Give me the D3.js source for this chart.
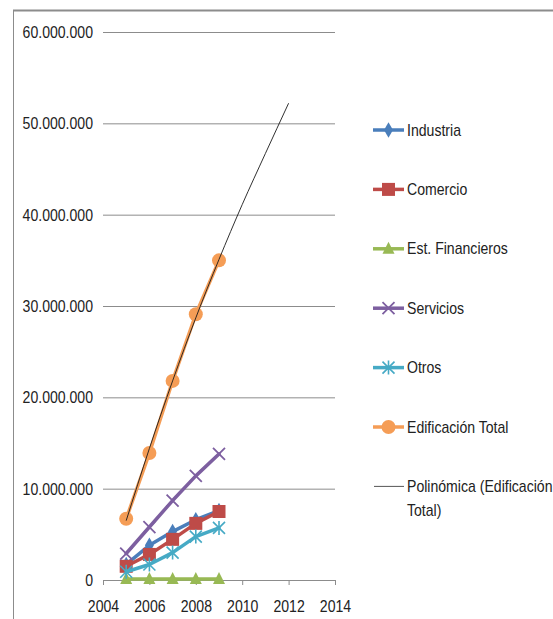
<!DOCTYPE html>
<html>
<head>
<meta charset="utf-8">
<script src="https://cdn.jsdelivr.net/npm/d3@7"></script>
<style>
  body { margin: 0; background: #fff; }
  svg text { font-family: "Liberation Sans", Arial, sans-serif; fill: #222; font-size: 16px; }
</style>
</head>
<body>
<div id="chart"></div>
<script>
// data
var years = [2005, 2006, 2007, 2008, 2009];
var industria = [1700000, 3800000, 5300000, 6600000, 7600000];
var comercio = [1500000, 2800000, 4450000, 6200000, 7500000];
var financieros = [100000, 100000, 100000, 100000, 100000];
var servicios = [2900000, 5800000, 8700000, 11400000, 13800000];
var otros = [900000, 1700000, 3000000, 4750000, 5700000];
var total = [6700000, 13900000, 21800000, 29100000, 35000000];
// polynomial trendline of Edificación Total
var trendYears = [2005, 2006, 2007, 2008, 2009, 2010, 2011, 2012];
var trendValues = [6500000, 14400000, 21800000, 28700000, 35100000, 41100000, 46700000, 52200000];
var yTicks = [0, 10000000, 20000000, 30000000, 40000000, 50000000, 60000000];
var xTicks = [2004, 2006, 2008, 2010, 2012, 2014];

var width = 553, height = 619;
var margin = {top: 32, right: 218, bottom: 39, left: 103};
var squeeze = 0.88; // text in the picture is horizontally condensed

var svg = d3.select("#chart")
  .append("svg")
    .attr("width", width)
    .attr("height", height);

// condensed text helper
function label(parent, px, py, str, anchor) {
  return parent.append("g")
      .attr("transform", "translate(" + px + "," + py + ") scale(" + squeeze + ",1)")
    .append("text")
      .attr("text-anchor", anchor || "start")
      .attr("dy", "0.35em")
      .text(str);
}

// outer chart frame (top and left edges visible)
svg.append("line").attr("x1", 13).attr("x2", width).attr("y1", 10.5).attr("y2", 10.5)
  .attr("stroke", "#8c8c8c").attr("stroke-width", 2);
svg.append("line").attr("x1", 13.5).attr("x2", 13.5).attr("y1", 10).attr("y2", height)
  .attr("stroke", "#8c8c8c").attr("stroke-width", 1);

var x = d3.scaleLinear()
  .domain([2004, 2014])
  .range([margin.left, width - margin.right]);

var y = d3.scaleLinear()
  .domain([0, 60000000])
  .range([height - margin.bottom, margin.top]);

function fmt(v) {
  return d3.format(",")(v).replace(/,/g, ".");
}

// gridlines + y labels
var yAxis = svg.append("g")
  .attr("transform", "translate(" + margin.left + ",0)")
  .call(d3.axisLeft(y).tickValues(yTicks).tickSize(0).tickFormat(""));
yAxis.select(".domain").remove();
yAxis.selectAll(".tick").append("line")
  .attr("x1", 0).attr("x2", x(2014) - margin.left)
  .attr("stroke", "#8c8c8c").attr("stroke-width", 1);
yAxis.selectAll(".tick").each(function (d) {
  label(d3.select(this), -10, 0, fmt(d), "end");
});

// x axis
var xAxis = svg.append("g")
  .attr("transform", "translate(0," + y(0) + ")")
  .call(d3.axisBottom(x).tickValues(xTicks).tickSize(5).tickSizeOuter(0).tickFormat(""));
xAxis.select(".domain").attr("stroke", "#8c8c8c");
xAxis.selectAll(".tick line").attr("stroke", "#8c8c8c");
xAxis.selectAll(".tick").each(function (d) {
  label(d3.select(this), 0, 26, d3.format("d")(d), "middle");
});

var series = [
  {name: "Industria", values: industria, color: "#4a7ebb", marker: "diamond"},
  {name: "Comercio", values: comercio, color: "#be4b48", marker: "square"},
  {name: "Est. Financieros", values: financieros, color: "#98b954", marker: "triangle"},
  {name: "Servicios", values: servicios, color: "#7d5fa0", marker: "x"},
  {name: "Otros", values: otros, color: "#46aac5", marker: "star"},
  {name: "Edificación Total", values: total, color: "#f59d56", marker: "circle"}
];

var line = d3.line()
  .x(function (d) { return x(d[0]); })
  .y(function (d) { return y(d[1]); });

function drawMarker(g, type, color, cx, cy) {
  if (type === "diamond") {
    g.append("path").attr("d", d3.symbol(d3.symbolDiamond, 70)())
      .attr("transform", "translate(" + cx + "," + cy + ")").attr("fill", color);
  } else if (type === "square") {
    g.append("rect").attr("x", cx - 6.5).attr("y", cy - 6.5).attr("width", 13).attr("height", 13)
      .attr("fill", color);
  } else if (type === "triangle") {
    g.append("path").attr("d", "M" + cx + "," + (cy - 7) + "L" + (cx + 6) + "," + (cy + 5) + "L" + (cx - 6) + "," + (cy + 5) + "Z")
      .attr("fill", color);
  } else if (type === "x") {
    g.append("path").attr("d", "M" + (cx - 6) + "," + (cy - 6) + "L" + (cx + 6) + "," + (cy + 6) + "M" + (cx + 6) + "," + (cy - 6) + "L" + (cx - 6) + "," + (cy + 6))
      .attr("stroke", color).attr("stroke-width", 1.8).attr("fill", "none");
  } else if (type === "star") {
    g.append("path").attr("d", "M" + (cx - 6) + "," + (cy - 6) + "L" + (cx + 6) + "," + (cy + 6) + "M" + (cx + 6) + "," + (cy - 6) + "L" + (cx - 6) + "," + (cy + 6) + "M" + cx + "," + (cy - 7) + "L" + cx + "," + (cy + 7))
      .attr("stroke", color).attr("stroke-width", 1.6).attr("fill", "none");
  } else if (type === "circle") {
    g.append("circle").attr("cx", cx).attr("cy", cy).attr("r", 7).attr("fill", color);
  }
}

var plot = svg.append("g");
series.forEach(function (s) {
  var pts = years.map(function (yr, i) { return [yr, s.values[i]]; });
  var g = plot.append("g");
  g.append("path")
    .datum(pts)
    .attr("d", line)
    .attr("fill", "none")
    .attr("stroke", s.color)
    .attr("stroke-width", 3.5)
    .attr("stroke-linejoin", "round")
    .attr("stroke-linecap", "round");
  pts.forEach(function (p) { drawMarker(g, s.marker, s.color, x(p[0]), y(p[1])); });
});

// trendline
var trendPts = trendYears.map(function (yr, i) { return [yr, trendValues[i]]; });
plot.append("path")
  .datum(trendPts)
  .attr("d", line.curve(d3.curveMonotoneX))
  .attr("fill", "none")
  .attr("stroke", "#1a1a1a")
  .attr("stroke-width", 0.9);

// legend
var legend = svg.append("g");
var legendTop = 130, legendStep = 59.4;
series.forEach(function (s, i) {
  var ly = legendTop + i * legendStep;
  legend.append("line").attr("x1", 373).attr("x2", 404).attr("y1", ly).attr("y2", ly)
    .attr("stroke", s.color).attr("stroke-width", 3.5);
  drawMarker(legend, s.marker, s.color, 388.5, ly);
  label(legend, 407, ly, s.name);
});
var ty = legendTop + 6 * legendStep;
legend.append("line").attr("x1", 374).attr("x2", 404).attr("y1", ty).attr("y2", ty)
  .attr("stroke", "#555").attr("stroke-width", 1);
label(legend, 407, ty, "Polinómica (Edificación");
label(legend, 407, ty + 24, "Total)");
</script>
</body>
</html>
